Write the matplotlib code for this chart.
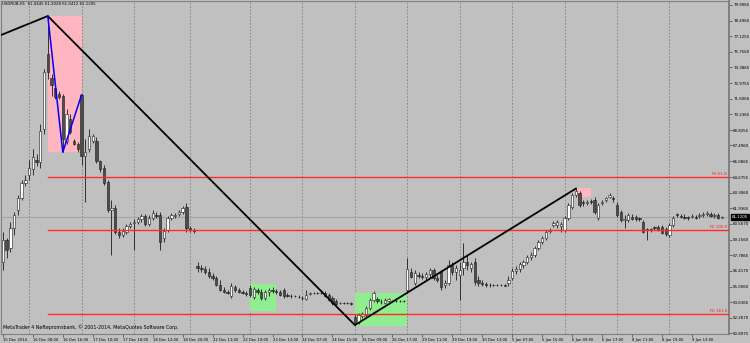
import numpy as np
import matplotlib.pyplot as plt
from matplotlib.patches import Rectangle

# USDRUB H1 bars
opens = [57.20, 59.15, 58.44, 60.21, 61.81, 62.87, 64.20, 64.91, 65.36, 66.24,
         65.98, 68.91, 75.56, 73.43, 72.54, 72.01, 71.83, 67.84, 69.79, 67.84,
         67.58, 71.92, 66.51, 67.13, 67.84, 67.84, 66.07, 65.53, 64.29, 61.81,
         61.99, 59.86, 59.59, 59.86, 60.39, 60.66, 60.74, 61.01, 61.28, 60.57,
         61.10, 61.37, 61.37, 59.33, 60.03, 61.10, 61.28, 61.45, 61.63, 62.07,
         60.21, 60.03, 56.84, 56.66, 56.57, 56.31, 55.95, 55.78, 55.15, 54.71,
         54.53, 54.18, 54.98, 54.71, 54.53, 54.45, 54.89, 54.09, 54.71, 54.53,
         54.00, 54.53, 54.71, 54.62, 54.53, 54.71, 54.27, 54.18, 54.18, 54.09,
         54.00, 53.91, 54.36, 54.45, 54.45, 54.45, 54.45, 54.27, 54.00, 53.74,
         53.56, 53.56, 53.56, 53.56, 52.32, 51.87, 52.41, 52.49, 53.11, 53.82,
         53.91, 53.65, 53.56, 53.74, 53.74, 53.74, 53.74, 53.74, 54.71, 56.31,
         55.33, 56.04, 55.95, 55.86, 56.13, 56.49, 55.78, 56.31, 55.15, 55.33,
         56.93, 56.31, 56.04, 56.66, 57.20, 56.66, 57.20, 55.60, 55.33, 55.24,
         55.15, 55.15, 55.15, 55.15, 55.15, 55.33, 55.78, 56.40, 56.57, 56.93,
         57.20, 57.64, 57.82, 58.44, 58.97, 59.33, 59.95, 60.48, 60.48, 60.39,
         60.03, 61.10, 62.07, 63.14, 63.32, 62.43, 62.43, 62.52, 62.70, 61.10,
         62.43, 62.70, 62.96, 62.87, 62.25, 61.63, 60.92, 60.92, 61.19, 61.19,
         61.01, 60.74, 60.03, 60.03, 60.21, 60.30, 60.30, 60.12, 59.59, 60.48,
         61.37, 61.28, 61.19, 61.10, 61.19, 61.19, 61.28, 61.37, 61.45, 61.45,
         61.28, 61.37, 61.0445]
highs = [59.86, 59.33, 60.74, 61.63, 63.14, 64.47, 64.83, 66.24, 67.13, 66.69,
         69.35, 74.23, 78.93, 73.79, 72.90, 72.28, 72.01, 70.68, 70.24, 68.02,
         67.75, 72.01, 68.02, 68.91, 68.46, 68.20, 66.24, 65.80, 64.47, 62.70,
         62.25, 60.21, 60.21, 60.57, 60.74, 61.01, 61.19, 61.45, 61.45, 61.37,
         61.81, 61.63, 61.63, 60.21, 61.28, 61.54, 61.54, 61.81, 62.16, 62.43,
         60.39, 60.21, 57.20, 56.93, 56.84, 56.66, 56.22, 55.95, 55.60, 54.98,
         54.71, 55.33, 55.15, 54.89, 54.71, 54.62, 55.15, 54.98, 54.89, 54.80,
         54.71, 54.89, 54.98, 54.80, 54.71, 54.89, 54.45, 54.36, 54.27, 54.27,
         54.18, 54.71, 54.53, 54.53, 54.53, 54.53, 54.62, 54.45, 54.18, 53.91,
         53.65, 53.65, 53.65, 53.65, 52.58, 52.67, 52.76, 53.29, 54.00, 54.62,
         54.09, 53.91, 54.00, 54.00, 53.82, 53.82, 53.82, 53.82, 57.55, 56.66,
         56.49, 56.31, 56.22, 56.31, 56.66, 56.66, 56.04, 56.49, 55.60, 57.37,
         57.20, 56.93, 57.20, 58.88, 57.82, 57.20, 57.55, 55.95, 55.60, 55.42,
         55.33, 55.24, 55.24, 55.24, 55.24, 55.95, 56.66, 56.84, 57.20, 57.37,
         57.82, 58.08, 58.62, 59.15, 59.50, 60.03, 60.21, 60.83, 60.92, 60.74,
         61.28, 62.43, 63.32, 63.76, 63.49, 62.70, 62.70, 62.78, 62.96, 62.43,
         62.70, 62.96, 63.32, 63.05, 62.52, 61.81, 61.37, 61.54, 61.45, 61.37,
         61.19, 60.92, 60.21, 60.21, 60.39, 60.48, 60.48, 60.30, 60.66, 61.28,
         61.54, 61.45, 61.45, 61.28, 61.45, 61.37, 61.54, 61.63, 61.72, 61.63,
         61.54, 61.54, 61.2028]
lows = [56.49, 57.55, 58.08, 59.59, 61.37, 62.70, 63.94, 64.47, 64.91, 65.71,
        65.53, 68.46, 73.34, 71.83, 71.57, 71.57, 66.95, 67.58, 68.46, 67.49,
        66.95, 65.80, 62.52, 66.95, 67.66, 65.89, 65.18, 64.03, 61.63, 57.82,
        59.68, 59.33, 59.41, 59.68, 60.21, 58.26, 60.57, 60.74, 60.39, 60.39,
        60.92, 61.10, 58.26, 58.97, 59.86, 60.92, 61.10, 61.28, 61.45, 59.86,
        59.86, 59.77, 56.31, 56.31, 56.13, 55.78, 55.60, 55.07, 54.62, 54.45,
        54.36, 54.00, 54.53, 54.45, 54.36, 54.18, 54.09, 53.91, 54.36, 53.82,
        53.82, 54.18, 54.45, 54.36, 54.18, 54.00, 54.09, 54.00, 54.09, 54.00,
        53.82, 53.82, 54.27, 54.36, 54.36, 54.36, 54.09, 53.74, 53.38, 53.29,
        53.47, 53.47, 53.47, 53.38, 51.60, 51.69, 52.23, 52.32, 52.94, 53.65,
        53.56, 53.47, 53.47, 53.65, 53.65, 53.65, 53.65, 53.65, 54.53, 55.78,
        55.15, 55.78, 55.69, 55.60, 55.78, 55.60, 55.42, 54.71, 54.89, 55.15,
        56.04, 55.60, 53.82, 56.04, 56.49, 56.31, 55.15, 55.07, 55.07, 54.98,
        54.98, 55.07, 55.07, 55.07, 55.07, 55.07, 55.60, 56.13, 56.31, 56.66,
        57.02, 57.37, 57.64, 58.26, 58.79, 59.15, 59.77, 60.30, 60.21, 59.86,
        59.86, 60.92, 61.90, 62.96, 62.07, 62.16, 62.25, 62.34, 61.45, 60.92,
        62.25, 62.52, 62.87, 62.52, 61.19, 60.74, 60.21, 60.74, 60.92, 60.83,
        60.83, 59.77, 59.15, 59.86, 60.03, 59.95, 59.68, 59.50, 59.41, 60.30,
        61.19, 61.10, 61.01, 60.92, 61.10, 61.01, 61.10, 61.19, 61.28, 61.19,
        61.10, 61.01, 61.0412]
closes = [59.15, 58.26, 60.21, 61.37, 62.87, 64.20, 64.47, 65.53, 66.42, 65.98,
          68.73, 73.96, 73.96, 72.81, 71.75, 71.75, 68.02, 70.24, 68.64, 67.58,
          67.13, 66.51, 66.95, 68.29, 68.29, 66.07, 65.36, 64.20, 61.81, 61.99,
          59.86, 59.59, 59.95, 60.39, 60.57, 60.74, 61.01, 61.28, 60.57, 61.10,
          61.54, 61.28, 58.97, 59.95, 61.10, 61.37, 61.37, 61.63, 61.99, 60.21,
          60.03, 59.95, 56.66, 56.57, 56.31, 55.95, 55.78, 55.15, 54.71, 54.53,
          54.45, 55.07, 54.71, 54.53, 54.45, 54.36, 54.27, 54.80, 54.53, 54.00,
          54.53, 54.71, 54.62, 54.53, 54.27, 54.18, 54.18, 54.18, 54.18, 54.09,
          54.00, 54.27, 54.45, 54.45, 54.45, 54.45, 54.18, 53.82, 53.56, 53.47,
          53.56, 53.56, 53.56, 53.47, 51.78, 52.49, 52.58, 53.11, 53.82, 54.45,
          53.74, 53.65, 53.82, 53.91, 53.74, 53.74, 53.74, 53.74, 56.57, 55.86,
          56.22, 55.95, 55.86, 56.13, 56.49, 55.78, 55.60, 54.98, 55.33, 56.93,
          56.31, 56.66, 56.49, 57.20, 56.93, 57.02, 55.42, 55.33, 55.24, 55.15,
          55.15, 55.15, 55.15, 55.15, 55.07, 55.60, 56.40, 56.57, 57.02, 57.20,
          57.64, 57.82, 58.44, 58.97, 59.33, 59.86, 60.03, 60.66, 60.74, 60.57,
          61.10, 62.25, 63.14, 63.49, 62.25, 62.43, 62.52, 62.52, 61.63, 62.25,
          62.52, 62.87, 63.14, 62.78, 61.37, 60.92, 61.01, 61.37, 61.01, 61.01,
          61.01, 59.86, 60.03, 60.03, 60.21, 60.03, 59.77, 59.68, 60.48, 61.10,
          61.37, 61.19, 61.10, 61.10, 61.28, 61.10, 61.37, 61.45, 61.54, 61.28,
          61.37, 61.10, 61.1205]

zigzag_bars = [-0.5, 12, 94, 153]
zigzag_prices = [77.25, 78.93, 51.60, 63.67]
blue_bars = [12, 16, 21]
blue_prices = [78.93, 66.89, 71.95]

pink_boxes = [(12, 21, 66.89, 78.93), (153, 157, 62.96, 63.76)]
green_boxes = [(66, 73, 52.85, 55.24), (94, 108, 51.52, 54.45)]

fe_names = ["FE 61.8", "FE 100.0", "FE 161.8"]
fe_levels = [64.67, 60.03, 52.58]
fe_start_bar = 12

price_ticks = [79.9065, 78.4960, 77.1255, 75.7560, 74.3865, 72.9755, 71.6060,
               70.2365, 68.8255, 67.4960, 66.0865, 64.6755, 63.3060, 61.9365,
               60.5670, 59.1560, 57.7865, 56.4170, 55.0060, 53.6365, 52.2670,
               50.8975]
last_price = 61.1205

time_labels = ["15 Dec 2014", "16 Dec 08:00", "16 Dec 16:00", "17 Dec 10:00",
               "17 Dec 18:00", "18 Dec 12:00", "18 Dec 20:00", "22 Dec 11:00",
               "22 Dec 19:00", "23 Dec 13:00", "24 Dec 07:00", "24 Dec 15:00",
               "26 Dec 09:00", "26 Dec 17:00", "29 Dec 11:00", "29 Dec 19:00",
               "30 Dec 13:00", "5 Jan 07:00", "5 Jan 15:00", "6 Jan 09:00",
               "6 Jan 17:00", "8 Jan 11:00", "8 Jan 19:00", "9 Jan 13:00"]
time_label_bars = list(range(0, 8 * len(time_labels), 8))
grid_bars = [7, 21, 35, 50, 66, 80, 94, 108, 122, 136, 150, 164, 178]

title = "USDRUB,H1  61.0445 61.2028 61.0412 61.1205"
credit = "MetaTrader 4 Neftepromsbank, \u00a9 2001-2014, MetaQuotes Software Corp."

BG = "#c0c0c0"

fig = plt.figure(figsize=(7.5, 3.43), dpi=100, facecolor=BG)
ax = fig.add_axes([1 / 750, 9 / 343, 728 / 750, 333 / 343], facecolor=BG)
ax.set_xlim(-0.5, 193.9)
ax.set_ylim(50.81, 80.26)

for s in ax.spines.values():
    s.set_color("#808080")
    s.set_linewidth(0.8)
ax.spines["right"].set_linewidth(1.4)

for b in grid_bars:
    ax.axvline(b, color="#808080", lw=0.6, ls=(0, (2, 2)), zorder=1)

for b0, b1, lo, hi in pink_boxes:
    ax.add_patch(Rectangle((b0, lo), b1 - b0, hi - lo, color="#ffb6c1", lw=0, zorder=1.5))
for b0, b1, lo, hi in green_boxes:
    ax.add_patch(Rectangle((b0, lo), b1 - b0, hi - lo, color="#90ee90", lw=0, zorder=1.5))

ax.axhline(last_price, color="#a4a4a4", lw=0.8, zorder=1.6)

# candles
o = np.array(opens)
h = np.array(highs)
l = np.array(lows)
c = np.array(closes)
xs = np.arange(len(c))
ax.vlines(xs, l, h, color="#1a1a1a", lw=0.6, zorder=2.5)
body_lo = np.minimum(o, c)
body_h = np.maximum(np.abs(c - o), 0.03)
colors = np.where(c > o, "white", "#4d4d4d")
ax.bar(xs, body_h, bottom=body_lo, width=0.62, color=colors,
       edgecolor="#1a1a1a", linewidth=0.4, zorder=3)

for name, lvl in zip(fe_names, fe_levels):
    ax.plot([fe_start_bar, 193.9], [lvl, lvl], color="#ff2a2a", lw=1.0,
            snap=True, zorder=4)
    ax.text(193.4, lvl + 0.1, name, color="#ff2020", fontsize=2.9,
            ha="right", va="bottom", zorder=5)

ax.plot(zigzag_bars, zigzag_prices, color="black", lw=1.3, zorder=5)
ax.plot(blue_bars, blue_prices, color="#0000ff", lw=1.1, zorder=5)

ax.yaxis.tick_right()
ax.set_yticks(price_ticks)
ax.set_yticklabels([f"{p:.4f}" for p in price_ticks])
ax.tick_params(axis="y", length=2, width=0.5, color="#404040", labelsize=2.9, pad=1)
ax.set_xticks(time_label_bars)
ax.set_xticklabels(time_labels, ha="left")
ax.tick_params(axis="x", length=2, width=0.5, color="#404040", labelsize=2.7, pad=1)

ax.text(1.004, last_price, f"{last_price:.4f}", transform=ax.get_yaxis_transform(),
        fontsize=2.9, color="white", va="center", ha="left",
        bbox=dict(boxstyle="square,pad=0.25", fc="black", ec="black"), zorder=6)

ax.text(0.002, 0.996, title, transform=ax.transAxes, fontsize=2.75, va="top", ha="left")
ax.text(0.003, 0.012, credit, transform=ax.transAxes, fontsize=3.4, va="bottom", ha="left")

fig.savefig("out.png", dpi=100, facecolor=BG)
